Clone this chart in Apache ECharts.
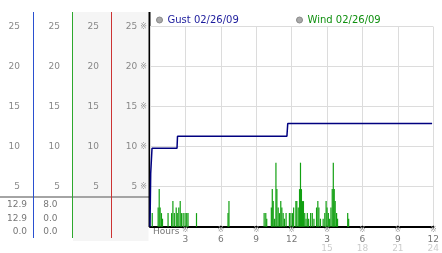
<!DOCTYPE html>
<html><head><meta charset="utf-8">
<script src="https://cdn.jsdelivr.net/npm/echarts@6/dist/echarts.min.js"></script>
<style>html,body{margin:0;padding:0;background:#fff}#c{width:442px;height:253px}</style>
</head><body><div id="c"></div>
<script>
const gustName = 'Gust 02/26/09';
const windName = 'Wind 02/26/09';
const gustHours  = [0, 0.04, 0.06, 0.17, 2.29, 2.33, 11.6, 11.67, 23.9];
const gustValues = [0, 0, 6.7, 9.8, 9.8, 11.3, 11.3, 12.9, 12.9];
const windHours = [0.19,0.69,0.78,0.86,0.97,1.06,1.53,1.83,1.94,2.06,2.22,2.31,2.44,2.56,2.67,2.81,2.97,3.11,3.22,3.94,
  6.61,6.69,9.67,9.81,9.89,10.28,10.36,10.44,10.56,10.67,10.75,10.86,10.97,11.08,11.17,11.28,11.39,11.53,11.81,11.94,12.08,
  12.17,12.36,12.44,12.56,12.67,12.75,12.83,12.92,13.0,13.11,13.22,13.33,13.44,13.61,13.75,13.89,14.11,14.22,14.31,14.44,
  14.67,14.81,14.92,15.0,15.11,15.22,15.33,15.44,15.53,15.61,15.69,15.81,15.89,16.75,16.83];
const windValues = [1.7,2.4,4.7,2.4,1.7,1.0,1.7,1.7,3.2,1.7,2.4,1.7,2.4,3.2,1.7,1.7,1.7,1.7,1.7,1.7,
  1.7,3.2,1.7,1.7,1.0,2.4,4.7,3.2,1.0,8.0,4.7,2.4,1.7,3.2,2.4,1.7,1.0,1.7,1.7,1.7,1.7,
  2.4,3.2,3.2,2.4,4.7,8.0,4.7,3.2,3.2,1.7,1.0,1.7,1.0,1.7,1.7,1.0,2.4,3.2,2.4,1.0,
  1.0,1.7,3.2,2.4,1.7,1.0,2.4,4.7,8.0,4.7,3.2,1.7,1.0,1.7,1.0];
const gustStats = ['12.9', '12.9', '0.0'];
const windStats = ['8.0', '0.0', '0.0'];
const F = 'DejaVu Sans';

const chart = echarts.init(document.getElementById('c'));

function yAx(offset, main) {
  const lab = {showMinLabel: false, margin: 2, color: '#888', fontFamily: F, fontSize: 9};
  if (main) {
    lab.formatter = v => '{v|' + v + '}{m|※}';
    lab.rich = {v: {fontSize: 9, color: '#888', fontFamily: F}, m: {fontSize: 8, color: '#999', padding: [0, 0, 0, 3]}};
  }
  return {type: 'value', min: 0, max: 25, interval: 5, position: 'left', offset: offset,
    axisLine: {show: false}, axisTick: {show: false},
    splitLine: {show: main, lineStyle: {color: '#dcdcdc', width: 1}},
    axisLabel: lab};
}

const statTexts = [];
gustStats.forEach((t, i) => statTexts.push({type: 'text', x: 27, y: 205 + i * 13.5,
  style: {text: t, fill: '#777', fontSize: 9, fontFamily: F, align: 'right', verticalAlign: 'middle'}}));
windStats.forEach((t, i) => statTexts.push({type: 'text', x: 57.5, y: 205 + i * 13.5,
  style: {text: t, fill: '#777', fontSize: 9, fontFamily: F, align: 'right', verticalAlign: 'middle'}}));

const legendBase = {top: 15, padding: 0, icon: 'circle', itemWidth: 6, itemHeight: 6,
  textStyle: {fontFamily: F, fontSize: 10},
  itemStyle: {color: '#aaa', borderColor: '#888', borderWidth: 1}};

const option = {
  animation: false,
  grid: {left: 150, right: 4, top: 26.7, bottom: 26.3},
  legend: [
    Object.assign({}, legendBase, {left: 156, data: [{name: gustName, textStyle: {color: '#1c1c9c'}}]}),
    Object.assign({}, legendBase, {left: 296, data: [{name: windName, textStyle: {color: '#109010'}}]})
  ],
  xAxis: {type: 'value', min: 0, max: 24, interval: 3,
    axisLine: {lineStyle: {color: '#000', width: 2}}, axisTick: {show: false},
    splitLine: {lineStyle: {color: '#dcdcdc', width: 1}},
    axisLabel: {margin: -1, fontFamily: F, fontSize: 9,
      formatter: v => {
        if (v === 0) return '';
        const h = v > 12 ? v - 12 : v;
        let s = '{m|※}\n{d|' + h + '}';
        if (v > 12) s += '\n{g|' + v + '}';
        return s;
      },
      rich: {m: {fontSize: 8, color: '#999', lineHeight: 9},
             d: {fontSize: 9, color: '#777', lineHeight: 9, fontFamily: F},
             g: {fontSize: 9, color: '#ccc', lineHeight: 9, fontFamily: F}}}},
  yAxis: [yAx(1, true), yAx(49, false), yAx(88, false), yAx(128, false)],
  series: [
    {type: 'line', name: gustName, yAxisIndex: 0, data: gustHours.map((h, i) => [h, gustValues[i]]),
     symbol: 'none', lineStyle: {color: '#000080', width: 1.5}, itemStyle: {color: '#aaa'}, z: 4},
    {type: 'bar', name: windName, yAxisIndex: 0, data: windHours.map((h, i) => [h, windValues[i]]),
     barWidth: 1.2, itemStyle: {color: '#12a012'}, z: 3}
  ],
  graphic: [
    {type: 'rect', z: -10, shape: {x: 73, y: 12, width: 75.5, height: 229}, style: {fill: '#f5f5f5'}},
    {type: 'line', shape: {x1: 0, y1: 197, x2: 149, y2: 197}, style: {stroke: '#a4a4a4', lineWidth: 2}},
    {type: 'line', shape: {x1: 33.5, y1: 12, x2: 33.5, y2: 238}, style: {stroke: '#2a50d0', lineWidth: 1}},
    {type: 'line', shape: {x1: 72.5, y1: 12, x2: 72.5, y2: 238}, style: {stroke: '#2ea82e', lineWidth: 1}},
    {type: 'line', shape: {x1: 111.5, y1: 12, x2: 111.5, y2: 238}, style: {stroke: '#cc3333', lineWidth: 1}},
    {type: 'line', shape: {x1: 149.5, y1: 12, x2: 149.5, y2: 227}, style: {stroke: '#000', lineWidth: 2}},
    {type: 'text', x: 153, y: 232, style: {text: 'Hours', fill: '#777', fontSize: 9, fontFamily: F, align: 'left', verticalAlign: 'middle'}}
  ].concat(statTexts)
};
chart.setOption(option);
</script></body></html>
